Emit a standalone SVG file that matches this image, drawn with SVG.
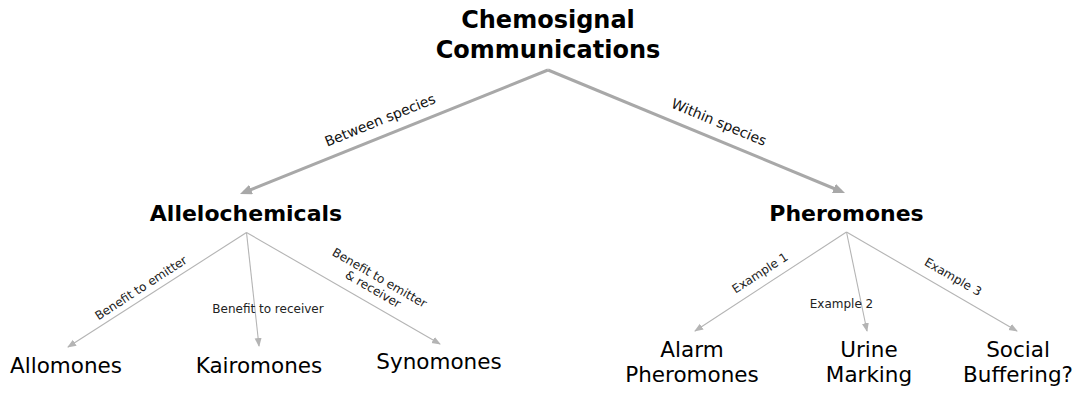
<svg xmlns="http://www.w3.org/2000/svg" width="1077" height="394" viewBox="0 0 1077 394">
<style>
.title{font-family:"DejaVu Sans",Verdana,sans-serif;font-weight:bold;font-size:24px;fill:#000;text-anchor:middle}
.head{font-family:"DejaVu Sans",Verdana,sans-serif;font-weight:bold;font-size:22px;fill:#000;text-anchor:middle}
.leaf{font-family:"DejaVu Sans",Verdana,sans-serif;font-size:21.5px;fill:#000;text-anchor:middle}
.lbl{font-family:"DejaVu Sans",Verdana,sans-serif;font-size:14px;fill:#111;text-anchor:middle}
.sl{font-family:"DejaVu Sans",Verdana,sans-serif;font-size:12px;fill:#222;text-anchor:middle}
.main{stroke:#a8a8a8;stroke-width:3;fill:none;marker-end:url(#big)}
.sub{stroke:#b4b4b4;stroke-width:1.1;fill:none;marker-end:url(#small)}
</style>
<defs>
<marker id="big" markerUnits="userSpaceOnUse" markerWidth="14" markerHeight="12" refX="8" refY="5" orient="auto"><path d="M0,0 L12,5 L0,10 z" fill="#a8a8a8"/></marker>
<marker id="small" markerUnits="userSpaceOnUse" markerWidth="10" markerHeight="9" refX="8" refY="3.5" orient="auto"><path d="M0,0 L9,3.5 L0,7 z" fill="#b4b4b4"/></marker>
</defs>
<g id="connectors">
<line class="main" x1="548" y1="70" x2="243.7" y2="192.5"/>
<line class="main" x1="548" y1="70" x2="841.3" y2="191.5"/>
<line class="sub" x1="246.5" y1="232.5" x2="68" y2="347"/>
<line class="sub" x1="246.5" y1="232.5" x2="259" y2="346"/>
<line class="sub" x1="246.5" y1="232.5" x2="440" y2="344"/>
<line class="sub" x1="846.5" y1="232" x2="695" y2="331"/>
<line class="sub" x1="846.5" y1="232" x2="867" y2="331"/>
<line class="sub" x1="846.5" y1="232" x2="1017" y2="331"/>
<g transform="translate(380,120) rotate(-22)"><text class="lbl" x="0" y="5">Between species</text></g>
<g transform="translate(719,122) rotate(22.5)"><text class="lbl" x="0" y="5">Within species</text></g>
<g transform="translate(141,288) rotate(-33)"><text class="sl" x="0" y="4">Benefit to emitter</text></g>
<text class="sl" x="268" y="313">Benefit to receiver</text>
<g transform="translate(376,284) rotate(30)"><text class="sl" x="0" y="-3">Benefit to emitter</text><text class="sl" x="0" y="10">&amp; receiver</text></g>
<g transform="translate(760,273) rotate(-33)"><text class="sl" x="0" y="4">Example 1</text></g>
<text class="sl" x="841.5" y="308">Example 2</text>
<g transform="translate(953,277) rotate(30)"><text class="sl" x="0" y="4">Example 3</text></g>
</g>
<g id="chemosignal"><text class="title" x="548" y="28">Chemosignal</text><text class="title" x="548" y="58">Communications</text></g>
<g id="allelochemicals"><text class="head" x="246" y="221">Allelochemicals</text></g>
<g id="pheromones"><text class="head" x="846.5" y="221">Pheromones</text></g>
<g id="allomones"><text class="leaf" x="66" y="373">Allomones</text></g>
<g id="kairomones"><text class="leaf" x="259" y="373">Kairomones</text></g>
<g id="synomones"><text class="leaf" x="439" y="369">Synomones</text></g>
<g id="alarm"><text class="leaf" x="692" y="357">Alarm</text><text class="leaf" x="692" y="382">Pheromones</text></g>
<g id="urine"><text class="leaf" x="869" y="357">Urine</text><text class="leaf" x="869" y="382">Marking</text></g>
<g id="social"><text class="leaf" x="1018" y="357">Social</text><text class="leaf" x="1018" y="382">Buffering?</text></g>
</svg>
